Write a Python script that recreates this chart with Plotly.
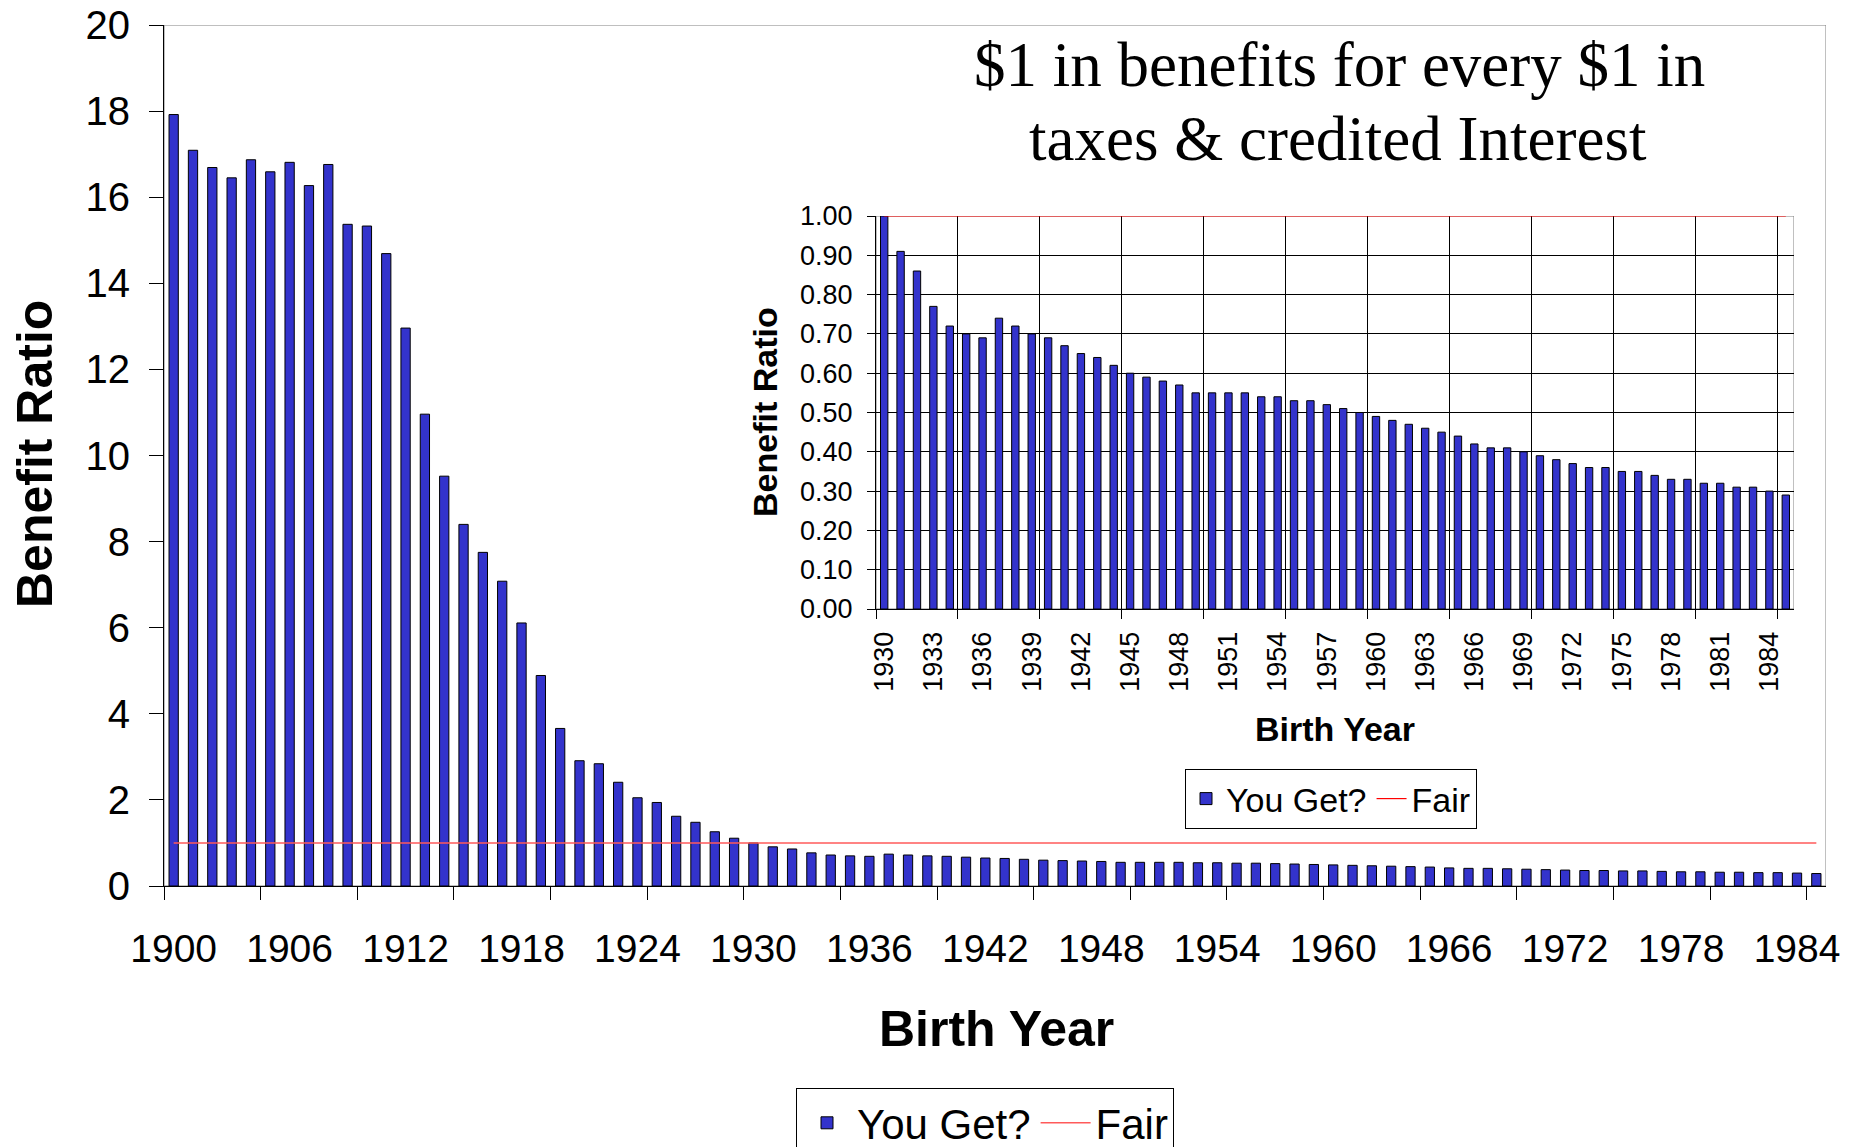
import plotly.graph_objects as go

# Benefit ratio by birth year (benefits received per $1 of taxes + credited interest)
years = list(range(1900, 1986))
benefit_ratio = [
    17.92, 17.09, 16.69, 16.45, 16.87, 16.59, 16.81, 16.27, 16.76, 15.37,
    15.33, 14.69, 12.96, 10.96, 9.52, 8.40, 7.75, 7.08, 6.11, 4.89,
    3.66, 2.91, 2.84, 2.41, 2.05, 1.94, 1.62, 1.48, 1.26, 1.11,
    1.00, 0.91, 0.86, 0.77, 0.72, 0.70, 0.69, 0.74, 0.72, 0.70,
    0.69, 0.67, 0.65, 0.64, 0.62, 0.60, 0.59, 0.58, 0.57, 0.55,
    0.55, 0.55, 0.55, 0.54, 0.54, 0.53, 0.53, 0.52, 0.51, 0.50,
    0.49, 0.48, 0.47, 0.46, 0.45, 0.44, 0.42, 0.41, 0.41, 0.40,
    0.39, 0.38, 0.37, 0.36, 0.36, 0.35, 0.35, 0.34, 0.33, 0.33,
    0.32, 0.32, 0.31, 0.31, 0.30, 0.29,
]
fair_ratio = [1.0] * len(years)

# Inset: the cohorts from 1930 on
inset_start = years.index(1930)
inset_years = years[inset_start:]
inset_ratio = benefit_ratio[inset_start:]
inset_fair = fair_ratio[inset_start:]

main_labels = list(range(1900, 1985, 6))
inset_labels = list(range(1930, 1985, 3))

BAR_BLUE = "#3333CC"
W, H = 1850, 1147
SANS = "Liberation Sans, Arial, sans-serif"
SERIF = "Liberation Serif, Times New Roman, serif"

main_xrange = [1899.5, 1985.5]
main_yrange = [0, 20]
inset_xrange = [1929.5, 1985.5]
inset_yrange = [0, 1]


def px_x(p):
    return p / W


def px_y(p):
    return 1 - p / H


fig = go.Figure()

fig.add_trace(go.Bar(
    x=years, y=benefit_ratio, width=0.48, name="You Get?",
    marker=dict(color=BAR_BLUE, line=dict(color="black", width=1)),
    xaxis="x", yaxis="y", legend="legend",
))
fig.add_trace(go.Scatter(
    x=years, y=fair_ratio, mode="lines", name="Fair",
    line=dict(color="#FF5A5A", width=1.5),
    xaxis="x", yaxis="y", legend="legend",
))
fig.add_trace(go.Bar(
    x=inset_years, y=inset_ratio, width=0.45, name="You Get?",
    marker=dict(color=BAR_BLUE, line=dict(color="black", width=1)),
    xaxis="x2", yaxis="y2", legend="legend2",
))
fig.add_trace(go.Scatter(
    x=inset_years, y=inset_fair, mode="lines", name="Fair",
    line=dict(color="#FF0000", width=1.2),
    xaxis="x2", yaxis="y2", legend="legend2",
))

fig.update_layout(
    width=W, height=H,
    margin=dict(l=0, r=0, t=0, b=0, autoexpand=False),
    paper_bgcolor="white", plot_bgcolor="white",
    font=dict(family=SANS, color="black"),
    showlegend=True,
    # main chart axes
    xaxis=dict(
        domain=[px_x(164), px_x(1826)], anchor="y", range=main_xrange,
        tickmode="array", tickvals=main_labels, ticks="",
        tickfont=dict(size=39), ticklabelstandoff=28,
        showgrid=False, zeroline=False, showline=True, linecolor="black", linewidth=1,
        minor=dict(tickmode="linear", tick0=1899.5, dtick=5, ticks="outside",
                   ticklen=13, tickcolor="black", tickwidth=1, showgrid=False),
    ),
    xaxis3=dict(
        overlaying="x", anchor="y", range=main_xrange,
        tickmode="linear", tick0=1899.5, dtick=5, ticks="inside", ticklen=13,
        tickcolor="black", showticklabels=False, showline=False,
        showgrid=False, zeroline=False,
    ),
    yaxis=dict(
        domain=[px_y(886), px_y(25)], anchor="x", range=main_yrange,
        tickmode="linear", tick0=0, dtick=2, ticks="outside", ticklen=14,
        tickcolor="black", tickfont=dict(size=40), ticklabelstandoff=11,
        showgrid=False, zeroline=False, showline=True, linecolor="black", linewidth=1,
    ),
    yaxis3=dict(
        overlaying="y", anchor="x", range=main_yrange,
        tickmode="linear", tick0=0, dtick=2, ticks="inside", ticklen=14,
        tickcolor="black", showticklabels=False, showline=False,
        showgrid=False, zeroline=False,
    ),
    # inset axes
    xaxis2=dict(
        domain=[px_x(876), px_x(1794)], anchor="y2", range=inset_xrange,
        tickmode="array", tickvals=inset_labels, ticks="", tickangle=-90,
        tickfont=dict(size=27), ticklabelstandoff=11,
        showgrid=False, zeroline=False, showline=True, linecolor="black", linewidth=1,
        layer="below traces",
        minor=dict(tickmode="linear", tick0=1929.5, dtick=5, ticks="outside",
                   ticklen=9, tickcolor="black", tickwidth=1,
                   showgrid=True, gridcolor="black", gridwidth=1),
    ),
    yaxis2=dict(
        domain=[px_y(609), px_y(216)], anchor="x2", range=inset_yrange,
        tickmode="linear", tick0=0, dtick=0.1, tickformat=".2f",
        ticks="outside", ticklen=8, tickcolor="black",
        tickfont=dict(size=27), ticklabelstandoff=9,
        showgrid=True, gridcolor="black", gridwidth=1, zeroline=False,
        showline=True, linecolor="black", linewidth=1, layer="below traces",
    ),
    legend=dict(
        orientation="h", x=px_x(796), y=px_y(1088), xanchor="left", yanchor="top",
        bgcolor="white", bordercolor="black", borderwidth=1, itemwidth=50,
        font=dict(size=42, family=SANS), traceorder="normal",
    ),
    legend2=dict(
        orientation="h", x=px_x(1185), y=px_y(769), xanchor="left", yanchor="top",
        bgcolor="white", bordercolor="black", borderwidth=1,
        font=dict(size=34, family=SANS), traceorder="normal",
    ),
)

# plot-area frames
fig.add_shape(type="rect", xref="x", yref="y",
              x0=main_xrange[0], x1=main_xrange[1], y0=main_yrange[0], y1=main_yrange[1],
              line=dict(color="#808080", width=1), layer="below")
fig.add_shape(type="rect", xref="x2", yref="y2",
              x0=inset_xrange[0], x1=inset_xrange[1], y0=inset_yrange[0], y1=inset_yrange[1],
              line=dict(color="#808080", width=1), layer="below")

# titles
annotations = [
    dict(text="$1 in benefits for every $1 in", x=px_x(1339), y=px_y(65),
         font=dict(family=SERIF, size=63)),
    dict(text="taxes &amp; credited Interest", x=px_x(1338), y=px_y(139),
         font=dict(family=SERIF, size=63)),
    dict(text="<b>Benefit Ratio</b>", x=px_x(35), y=px_y(454), textangle=-90,
         font=dict(family=SANS, size=50)),
    dict(text="<b>Birth Year</b>", x=px_x(996), y=px_y(1029),
         font=dict(family=SANS, size=50)),
    dict(text="<b>Benefit Ratio</b>", x=px_x(765), y=px_y(412), textangle=-90,
         font=dict(family=SANS, size=34)),
    dict(text="<b>Birth Year</b>", x=px_x(1335), y=px_y(729),
         font=dict(family=SANS, size=34)),
]
for a in annotations:
    fig.add_annotation(xref="paper", yref="paper", xanchor="center", yanchor="middle",
                       showarrow=False, **a)

fig.write_html("out.html")
